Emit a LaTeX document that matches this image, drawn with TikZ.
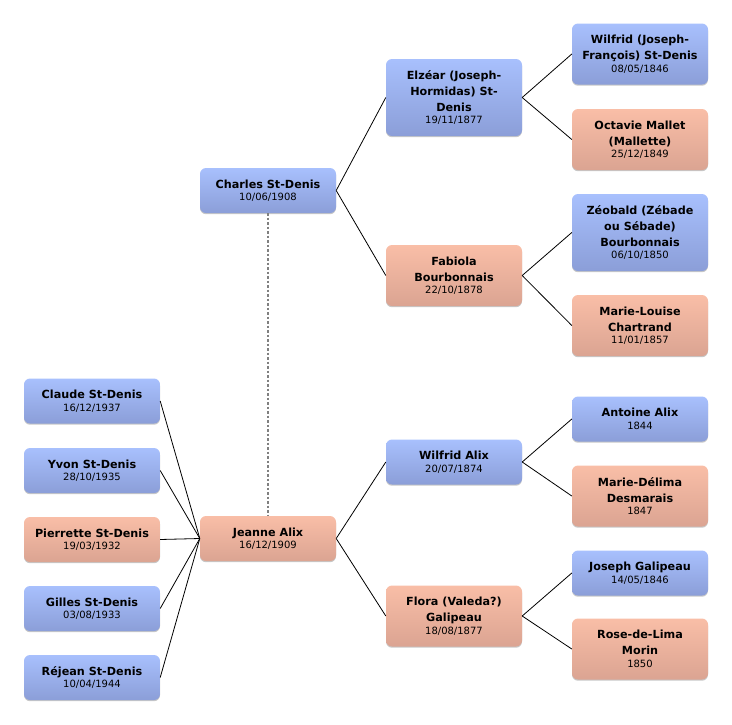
\documentclass[tikz,border=0pt]{standalone}
\usepackage{fontspec}
\setmainfont{DejaVu Sans}
\usetikzlibrary{shadows}
\definecolor{bluetop}{HTML}{A8C0FD}
\definecolor{bluebot}{HTML}{8B9ED8}
\definecolor{pinktop}{HTML}{F9BEA7}
\definecolor{pinkbot}{HTML}{DBA492}
\newcommand{\dt}[1]{\\[-3.5pt]{\fontsize{10}{12}\selectfont\mdseries #1}}
\tikzset{
  person/.style={rounded corners=6pt, minimum width=136pt, align=center,
    inner sep=0pt, font=\fontsize{11.2}{16}\selectfont\bfseries,
    drop shadow={shadow xshift=0pt, shadow yshift=-1.2pt, opacity=0.22, fill=black}},
  male/.style={person, top color=bluetop, bottom color=bluebot},
  female/.style={person, top color=pinktop, bottom color=pinkbot},
  h1/.style={minimum height=45pt},
  h2/.style={minimum height=61pt},
  h3/.style={minimum height=77pt},
  link/.style={draw=black, line width=0.8pt},
  spouse/.style={draw=gray, line width=2pt, dash pattern=on 2.5pt off 2pt}
}
\begin{document}
\begin{tikzpicture}[x=1pt,y=-1pt]
\useasboundingbox (0,0) rectangle (732,724);
% column 1
\node[male,h1] (claude) at (92,401) {Claude St-Denis\dt{16/12/1937}};
\node[male,h1] (yvon) at (92,470.5) {Yvon St-Denis\dt{28/10/1935}};
\node[female,h1] (pierrette) at (92,539.5) {Pierrette St-Denis\dt{19/03/1932}};
\node[male,h1] (gilles) at (92,608.5) {Gilles St-Denis\dt{03/08/1933}};
\node[male,h1] (rejean) at (92,677.5) {Réjean St-Denis\dt{10/04/1944}};
% column 2
\node[male,h1] (charles) at (268,190.5) {Charles St-Denis\dt{10/06/1908}};
\node[female,h1] (jeanne) at (268,538.5) {Jeanne Alix\dt{16/12/1909}};
% column 3
\node[male,h3] (elzear) at (454,97.5) {Elzéar (Joseph-\\Hormidas) St-\\Denis\dt{19/11/1877}};
\node[female,h2] (fabiola) at (454,275.5) {Fabiola\\Bourbonnais\dt{22/10/1878}};
\node[male,h1] (wilfridA) at (454,462) {Wilfrid Alix\dt{20/07/1874}};
\node[female,h2] (flora) at (454,616) {Flora (Valeda?)\\Galipeau\dt{18/08/1877}};
% column 4
\node[male,h2] (wilfridJ) at (640,54) {Wilfrid (Joseph-\\François) St-Denis\dt{08/05/1846}};
\node[female,h2] (octavie) at (640,139.5) {Octavie Mallet\\(Mallette)\dt{25/12/1849}};
\node[male,h3] (zeobald) at (640,232.5) {Zéobald (Zébade\\ou Sébade)\\Bourbonnais\dt{06/10/1850}};
\node[female,h2] (marielouise) at (640,325.5) {Marie-Louise\\Chartrand\dt{11/01/1857}};
\node[male,h1] (antoine) at (640,419) {Antoine Alix\dt{1844}};
\node[female,h2] (delima) at (640,496) {Marie-Délima\\Desmarais\dt{1847}};
\node[male,h1] (joseph) at (640,573) {Joseph Galipeau\dt{14/05/1846}};
\node[female,h2] (rose) at (640,649) {Rose-de-Lima\\Morin\dt{1850}};
% connectors
\draw[spouse] (charles.south) -- (jeanne.north);
\foreach \c in {claude,yvon,pierrette,gilles,rejean}
  \draw[link] (\c.east) -- (jeanne.west);
\draw[link] (charles.east) -- (elzear.west);
\draw[link] (charles.east) -- (fabiola.west);
\draw[link] (jeanne.east) -- (wilfridA.west);
\draw[link] (jeanne.east) -- (flora.west);
\draw[link] (elzear.east) -- (wilfridJ.west);
\draw[link] (elzear.east) -- (octavie.west);
\draw[link] (fabiola.east) -- (zeobald.west);
\draw[link] (fabiola.east) -- (marielouise.west);
\draw[link] (wilfridA.east) -- (antoine.west);
\draw[link] (wilfridA.east) -- (delima.west);
\draw[link] (flora.east) -- (joseph.west);
\draw[link] (flora.east) -- (rose.west);
\end{tikzpicture}
\end{document}
